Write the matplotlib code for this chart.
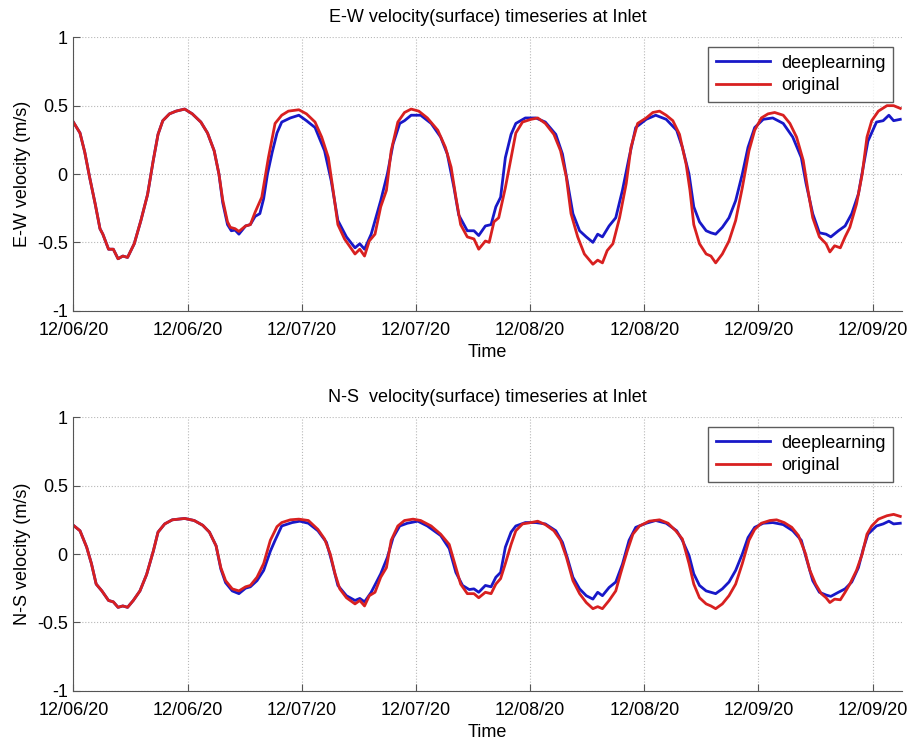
import numpy as np
import pandas as pd
import matplotlib
matplotlib.use('Agg')
import matplotlib.pyplot as plt
import matplotlib.dates as mdates

plt.rcParams['font.family'] = ['Liberation Sans', 'DejaVu Sans']

# start of the record, time given in hours after it
start = pd.Timestamp('2020-12-06 00:00')
t_end = 87.05

# E-W surface velocity (hours, m/s)
ew_orig = [(0.0, 0.38), (0.7, 0.30), (1.2, 0.16), (1.7, -0.02), (2.3, -0.22), (2.8, -0.40), (3.1, -0.44),
           (3.7, -0.55), (4.2, -0.55), (4.7, -0.62), (5.2, -0.60), (5.7, -0.61), (6.4, -0.51), (7.1, -0.34),
           (7.8, -0.15), (8.4, 0.10), (8.9, 0.29), (9.4, 0.39), (10.1, 0.44), (10.8, 0.46), (11.7, 0.475),
           (12.5, 0.44), (13.4, 0.38), (14.1, 0.30), (14.8, 0.17), (15.3, 0.0), (15.7, -0.19), (16.2, -0.35),
           (16.5, -0.39), (17.0, -0.40), (17.4, -0.42), (18.1, -0.38), (18.6, -0.37), (19.1, -0.28),
           (19.8, -0.17), (20.5, 0.12), (21.2, 0.37), (21.9, 0.43), (22.6, 0.46), (23.7, 0.47), (24.5, 0.44),
           (25.4, 0.38), (26.1, 0.27), (26.8, 0.12), (27.3, -0.12), (27.8, -0.37), (28.5, -0.475),
           (29.6, -0.585), (30.1, -0.55), (30.6, -0.60), (31.1, -0.49), (31.7, -0.44), (32.3, -0.24),
           (32.9, -0.12), (33.4, 0.17), (34.1, 0.38), (34.8, 0.45), (35.5, 0.475), (36.3, 0.46), (37.2, 0.41),
           (38.3, 0.32), (39.1, 0.195), (39.7, 0.05), (40.2, -0.17), (40.7, -0.37), (41.4, -0.46),
           (42.1, -0.475), (42.6, -0.55), (43.3, -0.49), (43.7, -0.50), (44.2, -0.35), (44.7, -0.32),
           (45.4, -0.10), (46.0, 0.12), (46.5, 0.30), (47.2, 0.38), (48.1, 0.40), (48.8, 0.41), (49.6, 0.37),
           (50.5, 0.29), (51.2, 0.17), (51.8, -0.02), (52.3, -0.29), (53.0, -0.46), (53.7, -0.585),
           (54.6, -0.66), (55.1, -0.63), (55.6, -0.65), (56.1, -0.56), (56.7, -0.51), (57.4, -0.32),
           (58.1, -0.07), (58.6, 0.195), (59.3, 0.37), (60.2, 0.41), (60.9, 0.45), (61.6, 0.46), (62.3, 0.43),
           (63.0, 0.39), (63.7, 0.29), (64.4, 0.07), (64.8, -0.12), (65.2, -0.37), (65.8, -0.51),
           (66.5, -0.585), (67.0, -0.60), (67.5, -0.65), (68.2, -0.585), (68.9, -0.49), (69.6, -0.34),
           (70.3, -0.10), (71.0, 0.17), (71.6, 0.32), (72.3, 0.41), (73.0, 0.44), (73.7, 0.45), (74.6, 0.43),
           (75.3, 0.37), (76.0, 0.27), (76.7, 0.10), (77.2, -0.12), (77.7, -0.32), (78.4, -0.46),
           (79.1, -0.51), (79.5, -0.57), (80.0, -0.525), (80.6, -0.54), (81.1, -0.46), (81.6, -0.39),
           (82.3, -0.22), (82.9, 0.0), (83.4, 0.27), (83.9, 0.39), (84.6, 0.46), (85.5, 0.50), (86.2, 0.50),
           (86.9, 0.48)]

ew_dl = [(0.0, 0.38), (0.7, 0.30), (1.2, 0.16), (1.7, -0.02), (2.3, -0.22), (2.8, -0.40), (3.1, -0.44),
         (3.7, -0.55), (4.2, -0.55), (4.7, -0.62), (5.2, -0.60), (5.7, -0.61), (6.4, -0.51), (7.1, -0.34),
         (7.8, -0.15), (8.4, 0.10), (8.9, 0.29), (9.4, 0.39), (10.1, 0.44), (10.8, 0.46), (11.7, 0.475),
         (12.5, 0.44), (13.4, 0.38), (14.1, 0.30), (14.8, 0.17), (15.3, 0.0), (15.7, -0.21), (16.2, -0.37),
         (16.6, -0.415), (17.0, -0.41), (17.4, -0.44), (18.1, -0.38), (18.6, -0.37), (19.1, -0.31),
         (19.6, -0.29), (20.0, -0.18), (20.4, 0.0), (20.9, 0.16), (21.4, 0.30), (21.9, 0.38), (22.8, 0.41),
         (23.7, 0.43), (24.5, 0.39), (25.4, 0.34), (26.4, 0.17), (27.1, -0.05), (27.8, -0.34), (28.7, -0.46),
         (29.6, -0.54), (30.1, -0.51), (30.6, -0.55), (31.3, -0.44), (32.3, -0.195), (33.0, 0.0),
         (33.6, 0.22), (34.3, 0.37), (34.8, 0.39), (35.5, 0.43), (36.5, 0.43), (37.6, 0.37), (38.6, 0.27),
         (39.3, 0.146), (40.0, -0.10), (40.5, -0.30), (41.4, -0.415), (42.1, -0.415), (42.6, -0.45),
         (43.3, -0.38), (43.9, -0.37), (44.4, -0.24), (44.9, -0.17), (45.4, 0.12), (46.0, 0.29),
         (46.5, 0.37), (47.5, 0.41), (48.6, 0.41), (49.6, 0.38), (50.7, 0.29), (51.4, 0.146), (51.9, -0.05),
         (52.5, -0.29), (53.2, -0.415), (53.9, -0.46), (54.6, -0.50), (55.1, -0.44), (55.6, -0.46),
         (56.3, -0.38), (57.0, -0.32), (57.7, -0.12), (58.4, 0.12), (59.1, 0.34), (60.2, 0.40), (61.2, 0.43),
         (62.3, 0.40), (63.4, 0.32), (64.0, 0.195), (64.7, 0.0), (65.2, -0.24), (65.8, -0.35),
         (66.5, -0.415), (67.0, -0.43), (67.5, -0.44), (68.2, -0.39), (68.9, -0.32), (69.6, -0.195),
         (70.3, 0.0), (70.9, 0.195), (71.6, 0.34), (72.5, 0.40), (73.5, 0.41), (74.6, 0.37), (75.6, 0.27),
         (76.5, 0.12), (77.0, -0.07), (77.7, -0.29), (78.4, -0.43), (79.1, -0.44), (79.6, -0.46),
         (80.4, -0.415), (81.1, -0.38), (81.8, -0.29), (82.5, -0.146), (83.0, 0.05), (83.5, 0.24),
         (84.4, 0.38), (85.1, 0.39), (85.7, 0.43), (86.2, 0.39), (86.9, 0.40)]

# N-S surface velocity (hours, m/s)
ns_orig = [(0.0, 0.21), (0.7, 0.17), (1.4, 0.05), (1.9, -0.07), (2.4, -0.22), (3.0, -0.27), (3.7, -0.34),
           (4.2, -0.35), (4.7, -0.39), (5.2, -0.38), (5.7, -0.39), (6.3, -0.34), (7.0, -0.27), (7.7, -0.15),
           (8.4, 0.02), (8.9, 0.16), (9.6, 0.22), (10.4, 0.25), (11.7, 0.26), (12.7, 0.245), (13.6, 0.21),
           (14.3, 0.16), (15.0, 0.06), (15.5, -0.10), (16.0, -0.195), (16.7, -0.255), (17.4, -0.27),
           (18.1, -0.24), (18.6, -0.23), (19.3, -0.17), (20.0, -0.07), (20.7, 0.10), (21.4, 0.20),
           (21.9, 0.23), (22.8, 0.25), (23.7, 0.255), (24.7, 0.245), (25.7, 0.18), (26.4, 0.11), (27.0, 0.0),
           (27.5, -0.145), (28.0, -0.255), (28.7, -0.32), (29.6, -0.365), (30.1, -0.34), (30.6, -0.38),
           (31.1, -0.305), (31.7, -0.28), (32.3, -0.17), (32.9, -0.10), (33.4, 0.10), (34.1, 0.205),
           (34.8, 0.245), (35.7, 0.255), (36.5, 0.245), (37.6, 0.205), (38.6, 0.145), (39.5, 0.07),
           (40.2, -0.10), (40.7, -0.22), (41.4, -0.29), (42.1, -0.29), (42.6, -0.32), (43.3, -0.28),
           (43.9, -0.29), (44.4, -0.22), (44.9, -0.18), (45.4, -0.07), (46.0, 0.07), (46.5, 0.17),
           (47.2, 0.22), (48.1, 0.23), (48.8, 0.24), (49.6, 0.215), (50.5, 0.17), (51.2, 0.10), (51.8, -0.02),
           (52.5, -0.195), (53.2, -0.29), (53.9, -0.355), (54.6, -0.40), (55.1, -0.385), (55.6, -0.40),
           (56.3, -0.34), (57.0, -0.27), (57.5, -0.145), (58.2, 0.02), (58.8, 0.145), (59.5, 0.205),
           (60.5, 0.24), (61.6, 0.25), (62.5, 0.225), (63.3, 0.17), (64.0, 0.11), (64.7, -0.07), (65.2, -0.22),
           (65.8, -0.32), (66.5, -0.365), (67.0, -0.38), (67.5, -0.40), (68.2, -0.365), (68.9, -0.305),
           (69.6, -0.22), (70.3, -0.07), (71.0, 0.10), (71.6, 0.18), (72.3, 0.225), (73.2, 0.245),
           (73.9, 0.25), (74.7, 0.23), (75.5, 0.195), (76.2, 0.135), (76.9, 0.01), (77.4, -0.12),
           (78.0, -0.22), (78.6, -0.29), (79.1, -0.32), (79.5, -0.355), (80.0, -0.33), (80.6, -0.335),
           (81.1, -0.28), (81.6, -0.22), (82.3, -0.12), (82.9, 0.0), (83.4, 0.145), (83.9, 0.205),
           (84.6, 0.255), (85.5, 0.28), (86.2, 0.29), (86.9, 0.275)]

ns_dl = [(0.0, 0.21), (0.7, 0.17), (1.4, 0.05), (1.9, -0.07), (2.4, -0.22), (3.0, -0.27), (3.7, -0.34),
         (4.2, -0.35), (4.7, -0.39), (5.2, -0.38), (5.7, -0.39), (6.3, -0.34), (7.0, -0.27), (7.7, -0.15),
         (8.4, 0.02), (8.9, 0.16), (9.6, 0.22), (10.4, 0.25), (11.7, 0.26), (12.7, 0.245), (13.6, 0.21),
         (14.3, 0.16), (15.0, 0.06), (15.5, -0.11), (16.0, -0.21), (16.7, -0.27), (17.4, -0.29),
         (18.1, -0.25), (18.6, -0.24), (19.3, -0.195), (20.0, -0.12), (20.7, 0.02), (21.2, 0.10),
         (21.9, 0.205), (23.0, 0.23), (23.8, 0.24), (24.7, 0.225), (25.7, 0.17), (26.6, 0.085),
         (27.1, -0.04), (27.8, -0.23), (28.7, -0.305), (29.6, -0.34), (30.1, -0.325), (30.6, -0.35),
         (31.3, -0.28), (32.3, -0.145), (33.0, -0.025), (33.6, 0.12), (34.3, 0.205), (35.1, 0.225),
         (36.2, 0.24), (37.2, 0.205), (38.6, 0.135), (39.5, 0.04), (40.2, -0.135), (40.9, -0.23),
         (41.6, -0.26), (42.1, -0.255), (42.6, -0.28), (43.3, -0.23), (43.9, -0.24), (44.4, -0.17),
         (44.9, -0.135), (45.4, 0.05), (46.0, 0.16), (46.5, 0.205), (47.5, 0.23), (48.6, 0.23), (49.6, 0.22),
         (50.7, 0.17), (51.4, 0.085), (51.9, -0.025), (52.5, -0.17), (53.2, -0.255), (53.9, -0.305),
         (54.6, -0.33), (55.1, -0.28), (55.6, -0.305), (56.3, -0.245), (57.0, -0.205), (57.7, -0.075),
         (58.4, 0.10), (59.1, 0.195), (60.2, 0.225), (61.2, 0.245), (62.3, 0.225), (63.4, 0.17),
         (64.0, 0.10), (64.7, -0.01), (65.2, -0.145), (65.8, -0.23), (66.5, -0.27), (67.0, -0.28),
         (67.5, -0.29), (68.2, -0.255), (68.9, -0.205), (69.6, -0.12), (70.3, 0.0), (70.9, 0.12),
         (71.6, 0.195), (72.5, 0.225), (73.5, 0.23), (74.6, 0.215), (75.6, 0.17), (76.5, 0.10),
         (77.0, -0.025), (77.7, -0.195), (78.4, -0.28), (79.1, -0.30), (79.6, -0.31), (80.4, -0.28),
         (81.1, -0.255), (81.8, -0.205), (82.5, -0.10), (83.0, 0.035), (83.5, 0.145), (84.4, 0.205),
         (85.1, 0.22), (85.7, 0.24), (86.2, 0.22), (86.9, 0.225)]

tick_hours = [0, 12, 24, 36, 48, 60, 72, 84]
y_ticks = [-1, -0.5, 0, 0.5, 1]
y_labels = ['-1', '-0.5', '0', '0.5', '1']

blue = '#1818c8'
red = '#d82020'


def to_time(hours):
    return start + pd.to_timedelta(np.asarray(hours, dtype=float), unit='h')


def draw(ax, dl, orig, title, ylabel):
    t_dl, v_dl = zip(*dl)
    t_or, v_or = zip(*orig)
    ax.plot(to_time(t_dl), v_dl, color=blue, lw=2.0, label='deeplearning')
    ax.plot(to_time(t_or), v_or, color=red, lw=2.0, label='original')

    ax.set_xlim(to_time([0])[0], to_time([t_end])[0])
    ax.set_ylim(-1, 1)
    ax.set_xticks(to_time(tick_hours))
    ax.xaxis.set_major_formatter(mdates.DateFormatter('%m/%d/%y'))
    ax.set_yticks(y_ticks)
    ax.set_yticklabels(y_labels)

    ax.grid(True, linestyle=':', color='#b8b8b8', lw=0.8)
    ax.spines['top'].set_visible(False)
    ax.spines['right'].set_visible(False)
    ax.spines['left'].set_color('#555555')
    ax.spines['bottom'].set_color('#555555')
    ax.tick_params(direction='in', length=5, color='#555555', labelsize=13)
    ax.tick_params(axis='x', pad=8)
    ax.tick_params(axis='y', pad=4)

    ax.set_title(title, fontsize=13, pad=11)
    ax.set_xlabel('Time', fontsize=13, labelpad=4)
    ax.set_ylabel(ylabel, fontsize=13, labelpad=4)

    leg = ax.legend(loc='upper right', fontsize=13, frameon=True, fancybox=False,
                    edgecolor='#333333', handlelength=3.0, borderpad=0.45,
                    labelspacing=0.3, borderaxespad=0, handletextpad=0.6,
                    bbox_to_anchor=(0.990, 0.966))
    leg.get_frame().set_linewidth(1.0)


fig = plt.figure(figsize=(9.11, 7.40), dpi=100)
ax1 = fig.add_axes([0.0805, 0.5801, 0.9093, 0.3695])
ax2 = fig.add_axes([0.0805, 0.0666, 0.9093, 0.3695])

draw(ax1, ew_dl, ew_orig, 'E-W velocity(surface) timeseries at Inlet', 'E-W velocity (m/s)')
draw(ax2, ns_dl, ns_orig, 'N-S  velocity(surface) timeseries at Inlet', 'N-S velocity (m/s)')

fig.savefig('out.png', dpi=100)
